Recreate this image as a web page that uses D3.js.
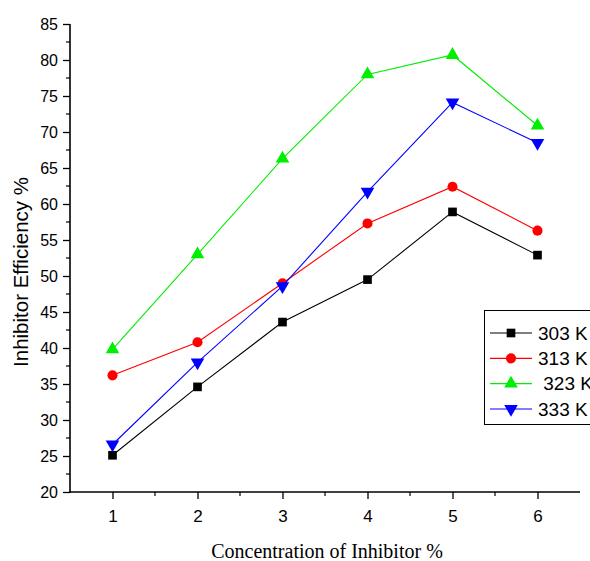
<!DOCTYPE html>
<html>
<head>
<meta charset="utf-8">
<script src="https://cdn.jsdelivr.net/npm/d3@7"></script>
<style>
body { margin: 0; background: #fff; }
svg { display: block; }
</style>
</head>
<body>
<svg id="chart" width="590" height="561"></svg>
<script>
// concentration values (x) and efficiency per temperature
var concentrations = [1, 2, 3, 4, 5, 6];
var ie303 = [25.1, 34.6, 43.6, 49.5, 58.9, 52.9];
var ie313 = [36.2, 40.8, 49.0, 57.3, 62.4, 56.3];
var ie323 = [39.8, 53.0, 66.3, 78.0, 80.7, 70.9];
var ie333 = [26.6, 38.0, 48.6, 61.7, 74.1, 68.5];
var seriesNames = ["303 K", "313 K", " 323 K", "333 K"];
var yTicks = [20, 25, 30, 35, 40, 45, 50, 55, 60, 65, 70, 75, 80, 85];

var series = [
	{name: seriesNames[0], values: ie303, color: "#000000", symbol: d3.symbolSquare, size: 75, rot: 0},
	{name: seriesNames[1], values: ie313, color: "#ff0000", symbol: d3.symbolCircle, size: 80, rot: 0},
	{name: seriesNames[2], values: ie323, color: "#00ee00", symbol: d3.symbolTriangle, size: 80, rot: 0},
	{name: seriesNames[3], values: ie333, color: "#0000ff", symbol: d3.symbolTriangle, size: 80, rot: 180}
];

var svg = d3.select("#chart");
var x = d3.scaleLinear().domain([0.5, 6.5]).range([70, 580]);
var y = d3.scaleLinear().domain([20, 85]).range([492, 24]);

// minor ticks
var yMinor = d3.range(22.5, 85, 5);
var xMinor = d3.range(1.5, 6.5, 1);

svg.selectAll(".ymin").data(yMinor).enter().append("line")
	.attr("x1", 70).attr("x2", 66)
	.attr("y1", d => y(d)).attr("y2", d => y(d))
	.attr("stroke", "#000").attr("stroke-width", 1.2);

svg.selectAll(".xmin").data(xMinor).enter().append("line")
	.attr("y1", 492).attr("y2", 496)
	.attr("x1", d => x(d)).attr("x2", d => x(d))
	.attr("stroke", "#000").attr("stroke-width", 1.2);

var yAxis = svg.append("g")
	.attr("transform", "translate(70,0)")
	.call(d3.axisLeft(y).tickValues(yTicks).tickSizeOuter(0).tickSize(7).tickPadding(5));

var xAxis = svg.append("g")
	.attr("transform", "translate(0,492)")
	.call(d3.axisBottom(x).tickValues(concentrations).tickFormat(d3.format("d"))
		.tickSizeOuter(0).tickSize(7).tickPadding(11));

[yAxis, xAxis].forEach(function(a) {
	a.select(".domain").attr("stroke-width", 1.6);
	a.selectAll(".tick line").attr("stroke-width", 1.3);
	a.selectAll("text")
		.attr("font-family", "Liberation Sans, Arial, sans-serif")
		.attr("font-size", 16)
		.attr("fill", "#000");
});
xAxis.selectAll("text").attr("font-size", 17);
yAxis.select(".domain").attr("d", "M0,493V24");
xAxis.select(".domain").attr("d", "M69,0H580");

// lines
var line = d3.line()
	.x((d, i) => x(concentrations[i]))
	.y(d => y(d));

series.forEach(function(s) {
	svg.append("path")
		.datum(s.values)
		.attr("fill", "none")
		.attr("stroke", s.color)
		.attr("stroke-width", 1.1)
		.attr("d", line);

	svg.selectAll(null)
		.data(s.values)
		.enter().append("path")
		.attr("d", d3.symbol().type(s.symbol).size(s.size))
		.attr("fill", s.color)
		.attr("transform", (d, i) => "translate(" + x(concentrations[i]) + "," + y(d) + ") rotate(" + s.rot + ")");
});

// axis titles
svg.append("text")
	.attr("transform", "translate(28,272) rotate(-90)")
	.attr("text-anchor", "middle")
	.attr("font-family", "Liberation Sans, Arial, sans-serif")
	.attr("font-size", 20.5)
	.text("Inhibitor Efficiency %");

svg.append("text")
	.attr("x", 327)
	.attr("y", 558)
	.attr("text-anchor", "middle")
	.attr("font-family", "Liberation Serif, Times New Roman, serif")
	.attr("font-size", 20)
	.text("Concentration of Inhibitor %");

// legend
var legend = svg.append("g");
legend.append("rect")
	.attr("x", 484.5).attr("y", 310.5)
	.attr("width", 120).attr("height", 114)
	.attr("fill", "#fff")
	.attr("stroke", "#000")
	.attr("stroke-width", 1);

var ly = d3.scalePoint().domain(seriesNames).range([333, 409]);
var item = legend.selectAll(".item").data(series).enter().append("g")
	.attr("transform", d => "translate(0," + ly(d.name) + ")");

item.append("line")
	.attr("x1", 490).attr("x2", 532)
	.attr("stroke", d => d.color)
	.attr("stroke-width", 1.1);
item.append("path")
	.attr("d", d => d3.symbol().type(d.symbol).size(d.size)())
	.attr("fill", d => d.color)
	.attr("transform", d => "translate(511,0) rotate(" + d.rot + ")");
item.append("text")
	.attr("x", 538)
	.attr("dy", "0.35em")
	.attr("xml:space", "preserve")
	.style("white-space", "pre")
	.attr("font-family", "Liberation Sans, Arial, sans-serif")
	.attr("font-size", 19)
	.text(d => d.name);
</script>
</body>
</html>
